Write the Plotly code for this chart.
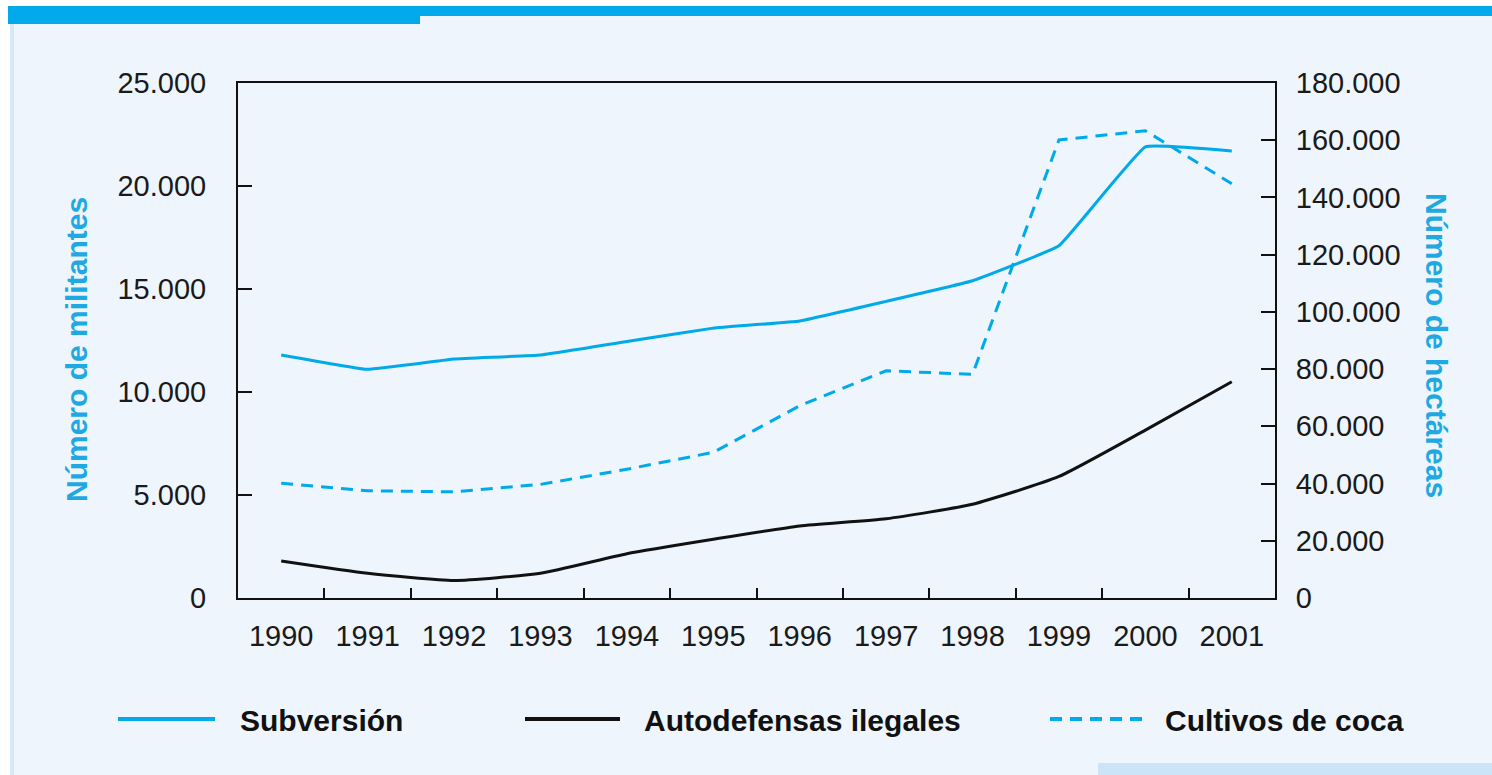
import plotly.graph_objects as go

# data
years = [str(y) for y in range(1990, 2002)]
subversion = [11800, 11100, 11600, 11800, 12450, 13100, 13450, 14400, 15400, 17100, 21900, 21700]
autodefensas = [1800, 1200, 850, 1200, 2150, 2850, 3500, 3850, 4550, 5900, 8150, 10500]
coca = [40100, 37500, 37100, 39700, 45000, 50900, 67200, 79400, 78200, 160100, 163300, 144800]

names = ["Subversión", "Autodefensas ilegales", "Cultivos de coca"]
left_ticks = [0, 5000, 10000, 15000, 20000, 25000]
right_ticks = [0, 20000, 40000, 60000, 80000, 100000, 120000, 140000, 160000, 180000]

BLUE = "#00A9E8"
TITLE_BLUE = "#1FA9E3"
BG = "#EEF5FC"
FONT = "Liberation Sans, Arial, sans-serif"

W, H = 1492, 775
L, R, T, B = 238, 1275, 83, 598  # plot box in page pixels


# page pixels -> paper coordinates (paper is relative to the plot box)
def px(x):
    return (x - L) / (R - L)


def py(y):
    return (B - y) / (B - T)


fig = go.Figure()
fig.add_trace(go.Scatter(x=years, y=subversion, name=names[0], mode="lines",
                         line=dict(color=BLUE, width=3, shape="spline", smoothing=0.25)))
fig.add_trace(go.Scatter(x=years, y=autodefensas, name=names[1], mode="lines",
                         line=dict(color="#111111", width=3, shape="spline", smoothing=0.5)))
fig.add_trace(go.Scatter(x=years, y=coca, name=names[2], mode="lines", yaxis="y2",
                         line=dict(color=BLUE, width=3, dash="12px,8px")))

shapes = [
    # white margin on top and left
    dict(type="rect", xref="paper", yref="paper", x0=px(0), x1=px(W), y0=py(6), y1=py(0),
         fillcolor="white", line_width=0, layer="below"),
    dict(type="rect", xref="paper", yref="paper", x0=px(0), x1=px(10), y0=py(H), y1=py(0),
         fillcolor="white", line_width=0, layer="below"),
    dict(type="rect", xref="paper", yref="paper", x0=px(10), x1=px(14), y0=py(H), y1=py(24),
         fillcolor="#D6E9F9", line_width=0, layer="below"),
    # top blue bars
    dict(type="rect", xref="paper", yref="paper", x0=px(8), x1=px(420), y0=py(24), y1=py(6),
         fillcolor="#00A9E9", line_width=0, layer="below"),
    dict(type="rect", xref="paper", yref="paper", x0=px(420), x1=px(W), y0=py(16), y1=py(6),
         fillcolor="#00A9E9", line_width=0, layer="below"),
    # light strip bottom right
    dict(type="rect", xref="paper", yref="paper", x0=px(1098), x1=px(W), y0=py(H), y1=py(763),
         fillcolor="#CCE4F7", line_width=0, layer="below"),
]

# legend drawn by hand to get the long line samples
legend_items = [
    (names[0], BLUE, "solid", 118, 215, 238),
    (names[1], "#111111", "solid", 525, 620, 642),
    (names[2], BLUE, "12px,8px", 1050, 1143, 1163),
]
annotations = []
for name, color, dash, x0, x1, tx in legend_items:
    shapes.append(dict(type="line", xref="paper", yref="paper", x0=px(x0), x1=px(x1),
                       y0=py(719), y1=py(719), line=dict(color=color, width=4, dash=dash)))
    annotations.append(dict(text=f"<b>{name}</b>", xref="paper", yref="paper", x=px(tx), y=py(720),
                            xanchor="left", yanchor="middle", showarrow=False,
                            font=dict(family=FONT, size=30, color="#111111")))

annotations.append(dict(text="<b>Número de militantes</b>", xref="paper", yref="paper",
                        x=px(76), y=py(350), textangle=-90, showarrow=False,
                        xanchor="center", yanchor="middle",
                        font=dict(family=FONT, size=30, color=TITLE_BLUE)))
annotations.append(dict(text="<b>Número de hectáreas</b>", xref="paper", yref="paper",
                        x=px(1437), y=py(345), textangle=90, showarrow=False,
                        xanchor="center", yanchor="middle",
                        font=dict(family=FONT, size=30, color=TITLE_BLUE)))

tick_font = dict(family=FONT, size=29, color="#1a1a1a")

fig.update_layout(
    width=W, height=H,
    margin=dict(l=L, r=W - R, t=T, b=H - B),
    paper_bgcolor=BG, plot_bgcolor=BG,
    separators=",.",
    showlegend=False,
    shapes=shapes,
    annotations=annotations,
    xaxis=dict(type="category", range=[-0.5, len(years) - 0.5], tickson="boundaries",
               ticks="inside", ticklen=10, tickwidth=2, tickcolor="#111111", showline=True,
               linecolor="#111111", linewidth=2, mirror=True, showgrid=False,
               tickfont=tick_font, ticklabelstandoff=11),
    yaxis=dict(range=[0, 25000], tickvals=left_ticks, tickformat=",d", ticks="inside",
               ticklen=14, tickwidth=2, tickcolor="#111111", showline=True, linecolor="#111111",
               linewidth=2, showgrid=False, zeroline=False, tickfont=tick_font,
               ticklabelstandoff=24),
    yaxis2=dict(range=[0, 180000], tickvals=right_ticks, tickformat=",d", overlaying="y",
                side="right", ticks="inside", ticklen=14, tickwidth=2, tickcolor="#111111",
                showline=True, linecolor="#111111", linewidth=2, showgrid=False, zeroline=False,
                tickfont=tick_font, ticklabelstandoff=13),
)

# drop the default body margin (and scrollbars) so the figure fills the window
fig.write_html("out.html", config={"displayModeBar": False},
               post_script="document.body.style.margin='0';document.body.style.overflow='hidden';")
